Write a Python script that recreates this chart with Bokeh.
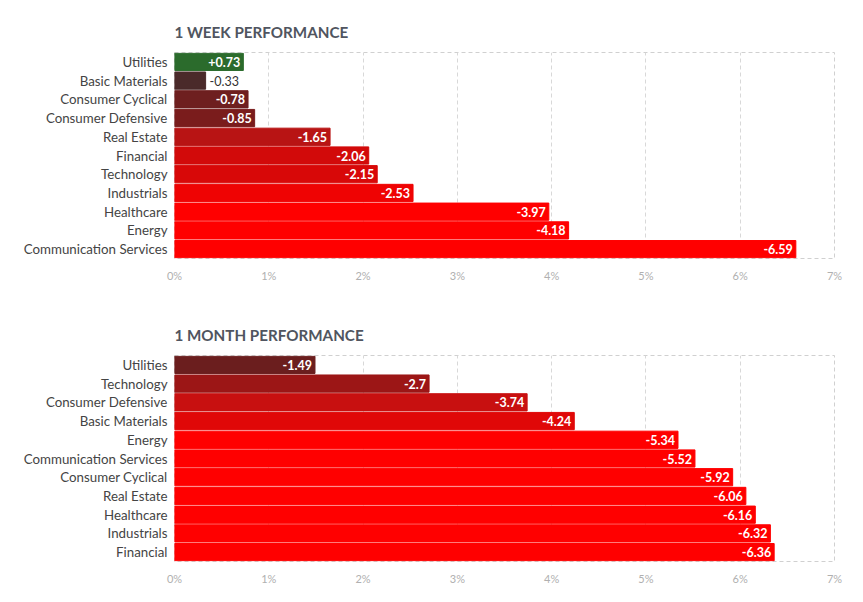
from bokeh.plotting import figure
from bokeh.models import ColumnDataSource, FactorRange, FixedTicker
from bokeh.layouts import column
from bokeh.embed import file_html
from bokeh.resources import INLINE
from bokeh.core.properties import value

week_sectors = ["Utilities", "Basic Materials", "Consumer Cyclical", "Consumer Defensive",
                "Real Estate", "Financial", "Technology", "Industrials", "Healthcare",
                "Energy", "Communication Services"]
week_values = [0.73, -0.33, -0.78, -0.85, -1.65, -2.06, -2.15, -2.53, -3.97, -4.18, -6.59]
week_colors = ["#2b6b2c", "#4a2a2a", "#6e1f1f", "#7a1c1c", "#b81414", "#d20a0a",
               "#d80808", "#ef0303", "#ff0000", "#ff0000", "#ff0000"]

month_sectors = ["Utilities", "Technology", "Consumer Defensive", "Basic Materials", "Energy",
                 "Communication Services", "Consumer Cyclical", "Real Estate", "Healthcare",
                 "Industrials", "Financial"]
month_values = [-1.49, -2.7, -3.74, -4.24, -5.34, -5.52, -5.92, -6.06, -6.16, -6.32, -6.36]
month_colors = ["#6b1e1e", "#9c1616", "#c81010", "#e00808", "#ff0000", "#ff0000",
                "#ff0000", "#ff0000", "#ff0000", "#ff0000", "#ff0000"]

tick_values = [0, 1, 2, 3, 4, 5, 6, 7]
tick_labels = {t: f"{t}%" for t in tick_values}

FONT = "Lato"


def make_chart(title, sectors, values, colors):
    widths = [abs(v) for v in values]
    labels = [f"{v:+g}" for v in values]
    inside = [w >= 0.5 for w in widths]
    src = ColumnDataSource(dict(cat=sectors, w=widths, color=colors))
    src_in = ColumnDataSource(dict(
        cat=[c for c, i in zip(sectors, inside) if i],
        w=[w for w, i in zip(widths, inside) if i],
        t=[t for t, i in zip(labels, inside) if i]))
    src_out = ColumnDataSource(dict(
        cat=[c for c, i in zip(sectors, inside) if not i],
        w=[w for w, i in zip(widths, inside) if not i],
        t=[t for t, i in zip(labels, inside) if not i]))

    p = figure(width=863, height=303, output_backend="svg", toolbar_location=None,
               y_range=FactorRange(*reversed(sectors), range_padding=0.0),
               x_range=(0, 7),
               min_border_left=174, min_border_right=29, min_border_top=52,
               min_border_bottom=45, title=title)
    p.title.text_font = FONT
    p.title.text_font_size = "15.2px"
    p.title.text_font_style = "bold"
    p.title.text_color = "#505560"
    p.title.align = "left"
    p.title.standoff = 24

    p.hbar(y="cat", right="w", left=0, height=0.92, color="color", source=src)
    p.text(x="w", y="cat", text="t", source=src_in, x_offset=-3,
           text_align="right", text_baseline="middle", text_color="white",
           text_font=value(FONT), text_font_style="bold", text_font_size="12.5px")
    p.text(x="w", y="cat", text="t", source=src_out, x_offset=4,
           text_align="left", text_baseline="middle", text_color="#333333",
           text_font=value(FONT), text_font_size="12.5px")

    p.xaxis.ticker = FixedTicker(ticks=tick_values)
    p.xaxis.major_label_overrides = tick_labels
    p.xaxis.axis_line_color = None
    p.xaxis.major_tick_line_color = None
    p.xaxis.minor_tick_line_color = None
    p.xaxis.major_label_text_color = "#b0b0b0"
    p.xaxis.major_label_text_font = FONT
    p.xaxis.major_label_text_font_size = "11px"
    p.xaxis.major_label_standoff = 4

    p.yaxis.axis_line_color = None
    p.yaxis.major_tick_line_color = None
    p.yaxis.minor_tick_line_color = None
    p.yaxis.major_label_text_color = "#444444"
    p.yaxis.major_label_text_font = FONT
    p.yaxis.major_label_text_font_size = "13.3px"
    p.yaxis.major_label_standoff = 1

    p.ygrid.grid_line_color = None
    p.xgrid.grid_line_color = "#d8d8d8"
    p.xgrid.grid_line_dash = "4 3"
    p.outline_line_color = "#d0d0d0"
    p.outline_line_dash = "4 3"
    p.background_fill_color = "white"
    p.border_fill_color = "white"
    return p


p1 = make_chart("1 WEEK PERFORMANCE", week_sectors, week_values, week_colors)
p2 = make_chart("1 MONTH PERFORMANCE", month_sectors, month_values, month_colors)
p = column(p1, p2, spacing=0)

open("out.html", "w").write(file_html(p, INLINE))
